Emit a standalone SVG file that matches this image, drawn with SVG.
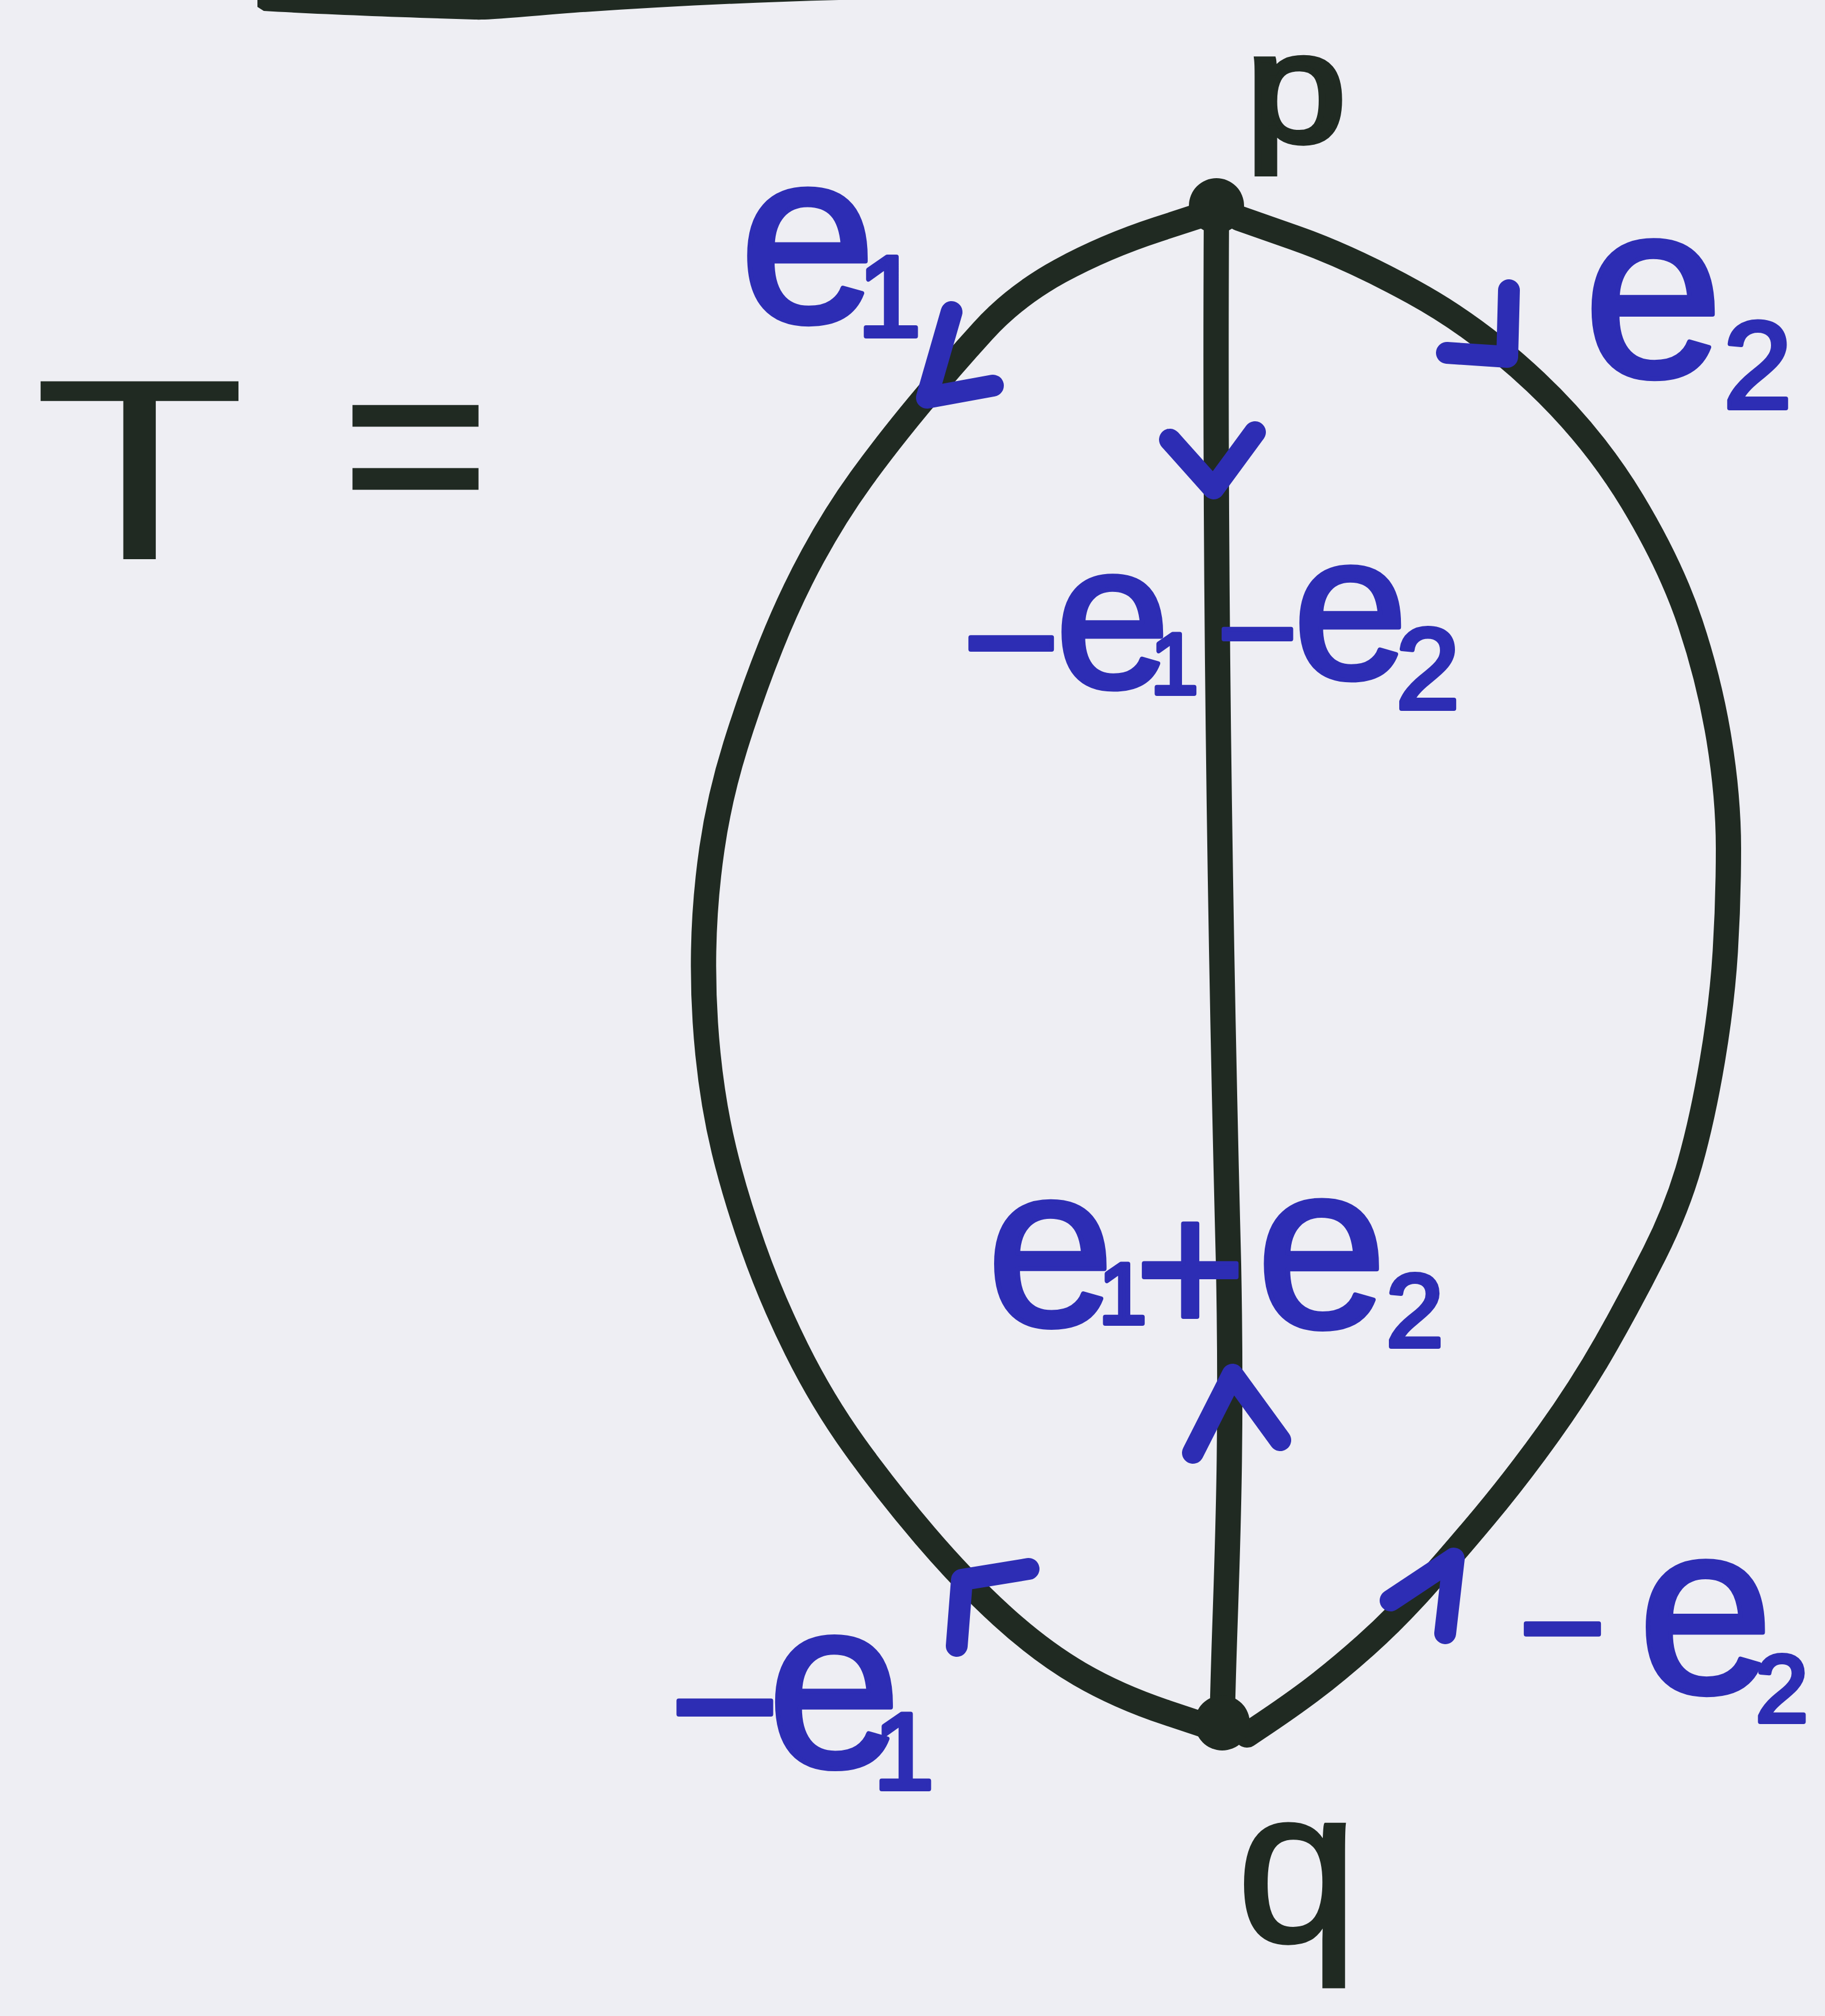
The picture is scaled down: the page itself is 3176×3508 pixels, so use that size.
<svg xmlns="http://www.w3.org/2000/svg" width="3176" height="3508" viewBox="0 0 3176 3508">
<style>
.edge{fill:none;stroke:#202a22;stroke-width:44;stroke-linecap:round;stroke-linejoin:round}
.tick{fill:none;stroke:#2d2db4;stroke-width:38;stroke-linecap:round;stroke-linejoin:round}
.blue{font-family:"Liberation Sans",Arial,sans-serif;fill:#2d2db4;stroke:#2d2db4;stroke-width:8;stroke-linejoin:round}
.ink{font-family:"Liberation Sans",Arial,sans-serif;fill:#202a22}
.vtx{fill:#202a22}
</style>
<rect x="0" y="0" width="3176" height="3508" fill="#eeeef3"/>
<path d="M448,0 L1460,0 C1300,4 1150,12 1000,22 C900,30 850,35 826,34 C700,30 560,25 459,19 L448,12 Z" fill="#202a22"/>

<g id="title">
  <text class="ink" x="57" y="973" font-size="450" textLength="372" lengthAdjust="spacingAndGlyphs">T</text>
  <text class="ink" x="595" y="923" font-size="439" stroke="#202a22" stroke-width="6">=</text>
</g>

<g id="connectors">
  <path id="edge-e1" class="edge" d="M2107,369 L2015,399 Q1923,429 1845,471.5 Q1767,514 1711,575.5 Q1655,637 1599,704.5 Q1543,772 1498.5,833.5 Q1454,895 1414.5,967.5 Q1375,1040 1341.5,1124 Q1308,1208 1280,1297.5 Q1252,1387 1239,1476.5 Q1226,1566 1224.5,1655.5 Q1223,1745 1232,1834 Q1241,1923 1260,2001.5 Q1279,2080 1310.5,2169.5 Q1342,2259 1386.5,2348.5 Q1431,2438 1487,2516 Q1543,2594 1610,2672.5 Q1677,2751 1744.5,2812.5 Q1812,2874 1879,2913 Q1946,2952 2030,2980 L2114,3008"/>
  <path id="edge-e2" class="edge" d="M2157,380 L2252.5,413.5 Q2348,447 2460,508.5 Q2572,570 2672.5,665 Q2773,760 2840.5,872 Q2908,984 2941.5,1084.5 Q2975,1185 2991.5,1286 Q3008,1387 3008,1476.5 Q3008,1566 3002.5,1655.5 Q2997,1745 2980,1845.5 Q2963,1946 2941,2024 Q2919,2102 2879.5,2180.5 Q2840,2259 2795.5,2337.5 Q2751,2416 2695,2494 Q2639,2572 2583,2639 Q2527,2706 2477,2762 Q2427,2818 2376.5,2863 Q2326,2908 2281.5,2941.5 Q2237,2975 2170,3019"/>
  <path id="edge-mid" class="edge" d="M2117,358 C2114,900 2120,1500 2138,2200 C2146,2600 2130,2800 2127,2998"/>
  <polyline class="tick" points="1656,543 1613,692 1728,671"/>
  <polyline class="tick" points="2036,765 2112,850 2184,752"/>
  <polyline class="tick" points="2626,505 2623,621 2518,614"/>
  <polyline class="tick" points="2076,2528 2145,2392 2228,2506"/>
  <polyline class="tick" points="1790,2730 1674,2749 1665,2864"/>
  <polyline class="tick" points="2420,2785 2530,2712 2515,2842"/>
</g>

<g id="node-p">
  <circle class="vtx" cx="2117" cy="358" r="48"/>
  <text class="ink" x="2168" y="246" font-size="270" textLength="175" lengthAdjust="spacingAndGlyphs" stroke="#202a22" stroke-width="10">p</text>
</g>
<g id="node-q">
  <circle class="vtx" cx="2127" cy="2998" r="48"/>
  <text class="ink" x="2152" y="3378" font-size="380" stroke="#202a22" stroke-width="6">q</text>
</g>

<g id="edge-labels">
  <text id="label-e1" class="blue"><tspan x="1286" y="560" font-size="430">e</tspan><tspan x="1492" y="585" font-size="200">1</tspan></text>
  <text id="label-e2" class="blue"><tspan x="2755" y="655" font-size="440">e</tspan><tspan x="2999" y="710" font-size="215">2</tspan></text>
  <text id="label-mid-top" class="blue"><tspan x="1675" y="1216" font-size="290">−</tspan><tspan x="1836" y="1196" font-size="360">e</tspan><tspan x="2002" y="1207" font-size="150">1</tspan><tspan x="2118" y="1183" font-size="240">−</tspan><tspan x="2250" y="1180" font-size="360">e</tspan><tspan x="2429" y="1233" font-size="200">2</tspan></text>
  <text id="label-mid-bottom" class="blue"><tspan x="1717" y="2306" font-size="400">e</tspan><tspan x="1912" y="2303" font-size="150">1</tspan><tspan x="1975" y="2320" font-size="330">+</tspan><tspan x="2186" y="2309" font-size="410">e</tspan><tspan x="2412" y="2343" font-size="180">2</tspan></text>
  <text id="label-neg-e1" class="blue"><tspan x="1165" y="3081" font-size="330">−</tspan><tspan x="1335" y="3074" font-size="420">e</tspan><tspan x="1520" y="3113" font-size="190">1</tspan></text>
  <text id="label-neg-e2" class="blue"><tspan x="2643" y="2921" font-size="260">−</tspan><tspan x="2850" y="2945" font-size="425">e</tspan><tspan x="3055" y="2996" font-size="165">2</tspan></text>
</g>
</svg>
